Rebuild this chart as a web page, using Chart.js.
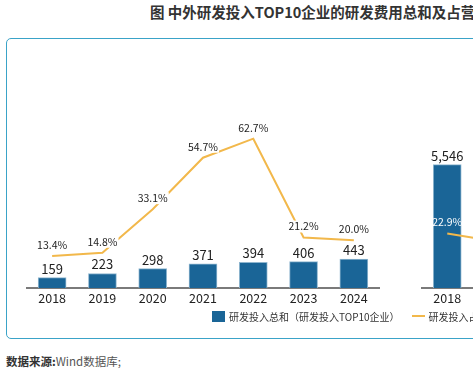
<!DOCTYPE html>
<html>
<head>
<meta charset="utf-8">
<script src="https://cdn.jsdelivr.net/npm/chart.js@4"></script>
<style>
  html, body { margin: 0; padding: 0; background: #fff; }
  body { width: 473px; height: 377px; overflow: hidden; position: relative; font-family: "Noto Sans CJK SC", "Noto Sans", sans-serif; }
  #title { position: absolute; left: 150px; top: 1px; font-size: 14.5px; font-weight: bold; color: #333; white-space: nowrap; }
  #box { position: absolute; left: 6px; top: 38px; width: 700px; height: 299px; border: 1.5px solid #3aa3c8; border-radius: 5px; }
  #leftChart { position: absolute; left: 0; top: 100px; }
  #rightChart { position: absolute; left: 400px; top: 100px; }
  #legend { position: absolute; left: 212px; top: 307px; font-size: 10px; color: #333; white-space: nowrap; }
  #legend span { display: inline-block; vertical-align: middle; }
  .sq { width: 13px; height: 11px; background: #1a6597; margin-right: 4px; }
  .ln { width: 13px; height: 2px; background: #f2b84b; margin: 0 4px 0 12px; }
  #source { position: absolute; left: 6px; top: 353px; font-size: 11.5px; color: #555; white-space: nowrap; }
  #source b { color: #333; }
</style>
</head>
<body>
<div id="title">图 中外研发投入TOP10企业的研发费用总和及占营业收入比重</div>
<div id="box"></div>
<canvas id="leftChart" width="400" height="215"></canvas>
<canvas id="rightChart" width="200" height="215"></canvas>
<div id="legend"><span class="sq"></span><span>研发投入总和（研发投入TOP10企业）</span><span class="ln"></span><span>研发投入占营业收入比重</span></div>
<div id="source"><b>数据来源:</b>Wind数据库;</div>
<script>
// domestic panel
const years = ['2018', '2019', '2020', '2021', '2022', '2023', '2024'];
const rdTotal = [159, 223, 298, 371, 394, 406, 443];
const rdRatio = [13.4, 14.8, 33.1, 54.7, 62.7, 21.2, 20.0];

// overseas panel (only the first year is visible)
const yearsAbroad = ['2018', '2019'];
const rdTotalAbroad = [5546, null];
const rdRatioAbroad = [22.9, 19.4];

const barColor = '#1a6597';
const lineColor = '#f2b84b';
const fontFamily = '"Noto Sans CJK SC", "Noto Sans", sans-serif';

// draws numbers above bars and percent labels above the line
const valueLabels = {
  id: 'valueLabels',
  afterDatasetsDraw(chart, args, opts) {
    const ctx = chart.ctx;
    ctx.save();
    ctx.textAlign = 'center';
    ctx.textBaseline = 'middle';
    chart.data.datasets.forEach((ds, i) => {
      const meta = chart.getDatasetMeta(i);
      meta.data.forEach((el, j) => {
        const v = ds.data[j];
        if (v == null) return;
        if (ds.type === 'bar') {
          ctx.font = '13px ' + fontFamily;
          ctx.fillStyle = '#222';
          ctx.fillText(v.toLocaleString('en-US'), el.x, el.y - 9);
        } else {
          if (j >= opts.lineLabelCount) return;
          const txt = v.toFixed(1) + '%';
          ctx.font = '10.5px ' + fontFamily;
          const w = ctx.measureText(txt).width;
          const y = el.y - 11;
          if (opts.lineLabelBg) {
            ctx.fillStyle = '#fff';
            ctx.fillRect(el.x - w / 2 - 1, y - 6, w + 2, 12);
          }
          ctx.fillStyle = opts.lineLabelColor;
          ctx.fillText(txt, el.x, y);
        }
      });
    });
    ctx.restore();
  }
};

function makeChart(id, labels, bars, ratios, barMax, pad, labelOpts) {
  const ctx = document.getElementById(id).getContext('2d');
  return new Chart(ctx, {
    type: 'bar',
    data: {
      labels: labels,
      datasets: [
        {
          type: 'line',
          label: '研发投入占营业收入比重',
          data: ratios,
          yAxisID: 'yLine',
          borderColor: lineColor,
          borderWidth: 2,
          pointRadius: 0,
          tension: 0,
          order: 0
        },
        {
          type: 'bar',
          label: '研发投入总和（研发投入TOP10企业）',
          data: bars,
          yAxisID: 'yBar',
          backgroundColor: barColor,
          borderColor: '#8fb6cf',
          borderWidth: 1,
          barThickness: 28,
          order: 1
        }
      ]
    },
    options: {
      responsive: false,
      animation: false,
      devicePixelRatio: 1,
      layout: { padding: pad },
      plugins: {
        legend: { display: false },
        tooltip: { enabled: false },
        valueLabels: labelOpts
      },
      scales: {
        x: {
          grid: { display: false, drawTicks: false },
          border: { display: true, color: '#7a7a7a', width: 2 },
          ticks: { color: '#222', padding: 3, font: { size: 12.5, family: fontFamily } }
        },
        yBar: { display: false, min: 0, max: barMax },
        yLine: { display: false, min: 0, max: 76 }
      }
    },
    plugins: [valueLabels]
  });
}

makeChart('leftChart', years, rdTotal, rdRatio, 2780,
  { left: 27, right: 21, top: 7, bottom: 6 },
  { lineLabelBg: true, lineLabelColor: '#222', lineLabelCount: 99 });

makeChart('rightChart', yearsAbroad, rdTotalAbroad, rdRatioAbroad, 8140,
  { left: 22, right: 77, top: 7, bottom: 6 },
  { lineLabelBg: false, lineLabelColor: '#fff', lineLabelCount: 1 });
</script>
</body>
</html>
